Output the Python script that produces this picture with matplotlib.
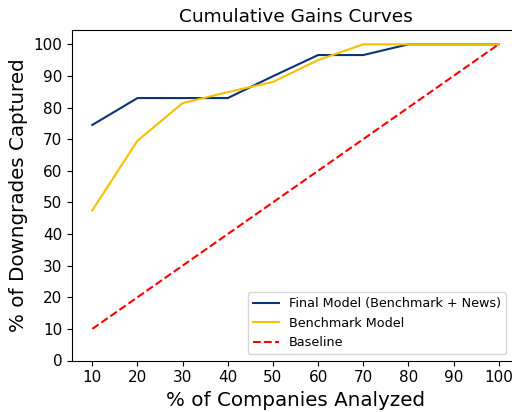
import matplotlib
matplotlib.use("Agg")
import matplotlib.pyplot as plt

# Pourcentage d'entreprises analysées
pct_companies = [10, 20, 30, 40, 50, 60, 70, 80, 90, 100]
final_model = [74.5, 83.0, 83.0, 83.0, 89.9, 96.6, 96.6, 100.0, 100.0, 100.0]
benchmark_model = [47.5, 69.5, 81.4, 84.9, 88.1, 95.0, 100.0, 100.0, 100.0, 100.0]
baseline = [10, 20, 30, 40, 50, 60, 70, 80, 90, 100]

fig = plt.figure(figsize=(5.12, 4.12), dpi=100)
# l'axe déborde à droite, comme dans l'image d'origine (recadrée)
ax = fig.add_axes([72 / 512, 0.125, 447 / 512, 0.802])
ax.plot(pct_companies, final_model, color="#0b3572", lw=1.5,
        label="Final Model (Benchmark + News)")
ax.plot(pct_companies, benchmark_model, color="#f5c000", lw=1.5,
        label="Benchmark Model")
ax.plot(pct_companies, baseline, color="red", ls="--", lw=1.5,
        label="Baseline")

ax.set_title("Cumulative Gains Curves", fontsize=13.3)
ax.set_xlabel("% of Companies Analyzed", fontsize=14.3)
ax.set_ylabel("% of Downgrades Captured", fontsize=14.3)
ax.set_xticks(pct_companies)
ax.set_yticks(range(0, 101, 10))
ax.tick_params(labelsize=11)
ax.set_ylim(0, 104.5)
ax.legend(loc="lower right", fontsize=9.2, bbox_to_anchor=(0.985, 0.0))

fig.savefig("out.png", dpi=100)
